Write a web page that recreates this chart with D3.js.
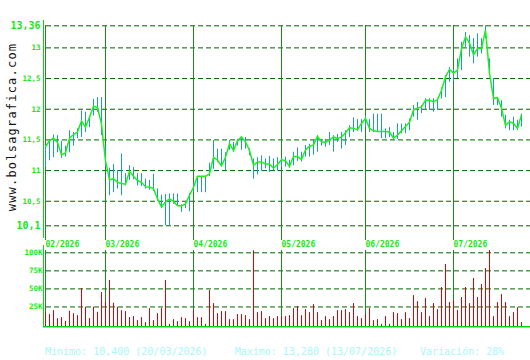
<!DOCTYPE html>
<html><head><meta charset="utf-8">
<script src="https://cdn.jsdelivr.net/npm/d3@7"></script>
<style>
html,body{margin:0;padding:0;background:#fff;}
svg{display:block;}
text{font-family:"DejaVu Sans Mono",monospace;}
</style></head>
<body>
<svg id="chart" width="530" height="360"></svg>
<script>
// ---- data ----
const closes = [11.38,11.48,11.52,11.45,11.25,11.28,11.52,11.58,11.62,11.80,11.70,11.86,12.04,12.02,11.75,
11.15,10.84,10.86,10.80,10.78,10.77,10.98,10.90,10.83,10.80,10.73,10.72,10.70,10.53,10.40,10.48,10.53,10.49,10.42,10.42,10.45,10.59,
10.72,10.90,10.90,10.90,10.94,11.21,11.16,11.07,11.21,11.43,11.32,11.48,11.54,11.46,11.32,11.08,11.13,11.13,11.10,11.10,11.03,11.09,
11.17,11.15,11.06,11.22,11.22,11.17,11.33,11.39,11.41,11.55,11.46,11.45,11.49,11.54,11.51,11.54,11.61,11.69,11.68,11.66,11.76,
11.84,11.68,11.64,11.63,11.63,11.63,11.62,11.52,11.57,11.64,11.71,11.78,11.98,12.01,12.03,12.14,12.14,12.11,12.15,12.30,12.52,12.64,
12.58,12.63,12.98,13.17,13.07,12.88,12.98,12.98,13.28,12.58,12.17,12.18,12.01,11.73,11.79,11.76,11.68,11.90];
const highs = [11.42,11.50,11.58,11.57,11.48,11.40,11.65,11.62,11.68,11.97,11.95,11.88,12.16,12.19,12.19,
11.40,11.04,11.10,11.00,11.27,10.95,11.08,11.05,10.95,10.95,10.86,10.84,10.94,10.70,10.60,10.61,10.62,10.62,10.62,10.44,10.50,10.63,
10.80,10.90,10.90,10.90,11.12,11.49,11.35,11.35,11.29,11.49,11.46,11.51,11.55,11.54,11.35,11.19,11.21,11.24,11.19,11.23,11.19,11.21,
11.20,11.22,11.17,11.30,11.37,11.30,11.41,11.43,11.49,11.57,11.51,11.51,11.62,11.57,11.59,11.62,11.65,11.73,11.86,11.83,11.83,
11.89,11.83,11.92,11.92,11.92,11.68,11.70,11.62,11.76,11.76,11.76,11.84,12.06,12.11,12.06,12.17,12.17,12.17,12.17,12.35,12.55,12.68,
12.65,12.82,13.09,13.25,13.20,13.15,13.23,13.15,13.36,12.82,12.50,12.19,12.14,11.90,11.82,11.87,11.82,11.92];
const lows = [11.05,11.16,11.21,11.29,11.20,11.22,11.29,11.40,11.52,11.54,11.62,11.70,11.89,11.95,11.57,
11.05,10.59,10.64,10.70,10.59,10.75,10.84,10.85,10.75,10.74,10.70,10.68,10.66,10.50,10.38,10.10,10.10,10.45,10.42,10.32,10.38,10.33,
10.65,10.64,10.64,10.64,10.90,11.02,11.13,11.06,11.00,11.33,11.30,11.40,11.33,11.35,11.24,10.86,10.93,10.99,11.03,10.97,11.00,10.99,
11.05,11.06,11.04,11.08,11.15,11.14,11.22,11.22,11.25,11.30,11.40,11.38,11.41,11.30,11.46,11.35,11.41,11.54,11.62,11.64,11.62,
11.70,11.62,11.62,11.62,11.52,11.52,11.54,11.49,11.51,11.60,11.60,11.65,11.87,11.82,11.93,12.00,11.98,11.95,11.98,12.17,12.19,12.44,
12.45,12.50,12.63,13.01,12.85,12.74,12.85,12.90,13.15,12.55,12.06,12.06,11.87,11.68,11.65,11.65,11.65,11.71];
const volumes = [17.6,14.4,19.9,8.8,10.2,5.1,19.0,15.7,13.0,50.5,24.5,8.8,24.5,17.6,44.9,
31.5,61.6,30.1,24.5,19.9,18.5,10.2,11.6,6.0,10.2,3.2,22.7,6.0,15.7,22.7,61.6,1.0,7.4,4.6,10.2,8.8,4.6,
19.9,10.2,10.2,1.0,47.7,29.6,15.7,18.5,18.5,7.4,7.4,14.4,14.4,13.0,7.4,102.8,17.1,18.5,8.8,11.6,8.8,11.6,
11.6,11.6,13.0,22.7,25.5,13.0,21.3,17.1,28.2,17.1,6.0,11.6,7.4,11.6,19.9,19.9,21.3,17.1,29.6,11.6,8.8,
14.4,22.7,6.0,7.4,1.0,11.6,1.0,17.1,15.7,7.4,17.1,8.8,40.7,32.4,17.1,36.6,11.6,29.6,21.3,51.9,83.8,31.0,
33.8,19.9,38.0,51.9,29.6,64.4,38.0,56.0,78.2,103.2,11.6,31.0,42.1,31.0,11.6,17.1,24.0,3.2]; // thousands
const monthLabels = ["02/2026","03/2026","04/2026","05/2026","06/2026","07/2026"];
const monthStartIndex = [0,15,37,59,80,102];
const priceTicks = [13.36,13,12.5,12,11.5,11,10.5,10.1];
const volumeTicks = [100,75,50,25];
const volumeTickLabels = ["100K","75K","50K","25K"];
const summaryTexts = ["Minimo: 10,400 (20/03/2026)","Maximo: 13,280 (13/07/2026)","Variación: 28%"];
const siteLabel = "www.bolsagrafica.com";

// ---- drawing ----
const svg = d3.select("#chart");
const W = 530;
const x = d3.scaleLinear().domain([0, closes.length - 1]).range([45.3, 521.3]);
const y = d3.scaleLinear().domain([10.1, 13.36]).range([225.3, 25.3]);
const yv = d3.scaleLinear().domain([0, 100]).range([324.5, 252.3]);
const px = i => Math.round(x(i));

const gridCol = "#006400", monthCol = "#1a8a1a", axisCol = "#10d010", labCol = "#16e816";

// price grid lines
const gGrid = svg.append("g").attr("transform","translate(46,0)")
  .call(d3.axisRight(y).tickValues(priceTicks).tickSize(W - 46).tickFormat(""));
gGrid.select(".domain").remove();
gGrid.selectAll("line").attr("stroke", gridCol).attr("stroke-dasharray","5,3").attr("stroke-width",1);

// volume grid
const gvGrid = svg.append("g").attr("transform","translate(46,0)")
  .call(d3.axisRight(yv).tickValues(volumeTicks).tickSize(W - 46).tickFormat(""));
gvGrid.select(".domain").remove();
gvGrid.selectAll("line").attr("stroke", gridCol).attr("stroke-dasharray","5,3").attr("stroke-width",1);

// month lines
svg.append("g").selectAll("rect").data(monthStartIndex).join("rect")
  .attr("x", d => px(d)).attr("width", 1)
  .attr("y", 25).attr("height", 215).attr("fill", monthCol);
svg.append("g").selectAll("rect").data(monthStartIndex).join("rect")
  .attr("x", d => px(d)).attr("width", 1)
  .attr("y", 250).attr("height", 76).attr("fill", monthCol);

// month labels
svg.append("g").selectAll("text").data(monthStartIndex).join("text")
  .attr("x", d => px(d) + 0.5).attr("y", 246.5)
  .attr("font-size", 8).attr("font-weight","bold").attr("fill", labCol)
  .text((d,i) => monthLabels[i]);

// high-low bars
svg.append("g").selectAll("rect").data(closes).join("rect")
  .attr("x", (d,i) => px(i)).attr("width", 1)
  .attr("y", (d,i) => y(highs[i])).attr("height", (d,i) => Math.max(1, y(lows[i]) - y(highs[i])))
  .attr("fill", "#18a2b0");

// close line
svg.append("path").datum(closes)
  .attr("d", d3.line().x((d,i) => px(i) + 0.5).y(d => y(d)))
  .attr("fill","none").attr("stroke","#1cf01c").attr("stroke-width",1.5);

// volume bars
svg.append("g").selectAll("rect").data(volumes).join("rect")
  .attr("x", (d,i) => px(i)).attr("width", 1)
  .attr("y", d => yv(d)).attr("height", d => 326 - yv(d))
  .attr("fill", "#e00000");

// price axis
const gY = svg.append("g").attr("transform","translate(43.5,0)")
  .call(d3.axisLeft(y).tickValues(priceTicks).tickSize(0).tickPadding(3)
    .tickFormat(d => String(d).replace(".", ",")));
gY.select(".domain").remove();
gY.selectAll("text").attr("fill", labCol).attr("font-family","DejaVu Sans Mono, monospace")
  .attr("font-weight","bold")
  .attr("font-size", (d,i) => (i === 0 || i === priceTicks.length - 1) ? 10 : 7.5);
svg.append("rect").attr("x",43).attr("width",1).attr("y",20).attr("height",218).attr("fill",axisCol);

// volume axis
const gV = svg.append("g").attr("transform","translate(43.5,0)")
  .call(d3.axisLeft(yv).tickValues(volumeTicks).tickSize(0).tickPadding(1)
    .tickFormat((d,i) => volumeTickLabels[i]));
gV.select(".domain").remove();
gV.selectAll("text").attr("fill", labCol).attr("font-family","DejaVu Sans Mono, monospace")
  .attr("font-weight","bold").attr("font-size", 7.5);
svg.append("rect").attr("x",43).attr("width",1).attr("y",245).attr("height",82).attr("fill",axisCol);
svg.append("rect").attr("x",43).attr("width",487).attr("y",326).attr("height",1.5).attr("fill",axisCol);

// summary text
const sx = [45, 234.7, 420];
svg.append("g").selectAll("text").data(summaryTexts).join("text")
  .attr("x", (d,i) => sx[i]).attr("y", 355)
  .attr("font-size", 10).attr("fill", "#a8f8f8").text(d => d);

// site label
svg.append("text").attr("transform","translate(16,127) rotate(-90)")
  .attr("text-anchor","middle").attr("font-size",12).attr("letter-spacing",1.2)
  .attr("fill","#111").text(siteLabel);
</script>
</body></html>
